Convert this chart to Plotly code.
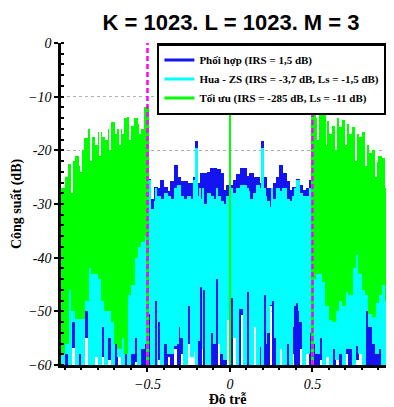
import plotly.graph_objects as go

# ---------------- data ----------------
BIN_START = -1.02      # first delay bin (left edge)
BIN_W = 0.02           # delay bin width

# Optimal ("Tối ưu") : upper / lower envelope per delay bin (None = below -60 dB)
green_hi = ([-27, -25, -22.5, -22, -21, -23, -20, -17.7, -16, -17.5, -19, -16.6, -17.5,
             -18, -16, -14.7, -17, -16, -17, -14, -13.8, -15.5, -14, -15, -16, -12]
            + [None] * 50 +
            [-11.9, -14, -13, -12.5, -14.5, -17, -15.5, -13.9, -15.6, -14.3, -15, -17, -15.6,
             -17, -17.5, -16.5, -19, -20.5, -20, -22.2, -21, -21.5, -22.7, -24, -27])
green_lo = ([-58, -56, -46, -50, -51.5, -51.5, -51.5, -48, -42, -43, -43, -44, -48,
             -50, -50, -52, -56, -57, -55, -58, -47, -45, -40, -38, -37, -36]
            + [None] * 50 +
            [-44, -43, -43, -44.5, -49, -51.6, -52, -50, -48, -49, -46.4, -47, -42,
             -39.5, -43, -46, -47, -50.5, -51, -48.5, -47, -45, -48, -51, -50])

# narrow green notches in the top edge (delay, level) seen in the reference
green_notch_delays = [-0.955, -0.905, -0.845, -0.785, -0.725, -0.665, -0.605, -0.545,
                      0.535, 0.585, 0.645, 0.705, 0.765, 0.825, 0.885, 0.945]
green_notch_level = [-28, -24, -22, -21, -20, -19, -18, -17,
                     -18, -19, -20, -19, -22, -23, -25, -27]

# Hua - ZS
cyan_hi = ([-42, -41, -44, -40, -42, -43, -41, -40, -42, -39, -41, -40, -42,
            -38, -40, -41, -39, -40, -38, -40, -37, -36, -35, -34, -33, -30]
           + [-25.5, -31, -29.5, -28.5, -29, -28, -28.5, -29, -27, -26.5, -28.5, -29, -28.5,
              -29, -25.5, -28.5, -29, -30, -28, -28.5, -29, -28.5, -29.5, -30, -28.5,
              -29, -28, -27, -26.5, -26.5, -27.5, -29, -28, -26.5, -27, -28.5, -29.5,
              -30.5, -29, -27, -27.5, -27, -29, -29.5, -28.5, -25.5, -28, -28.5, -28.5, -27]
           + [-32, -36, -38, -37, -40, -39, -38, -34.5, -39, -40, -38, -40, -37,
              -35, -39, -40, -41, -42, -40, -43, -42, -41, -43, -44, -45])
cyan_lo = ([-60, -58, -60, -52, -60, -58, -60, -50, -60, -60, -58.5, -60, -53,
            -60, -55, -60, -54, -58.5, -60, -52, -60, -58, -55, -60, -57, -56]
           + [-50.5, -60, -60, -52, -60, -56, -58, -58, -56.5, -53, -55, -60, -49,
              -58.5, -57.5, -55.6, -57, -60, -60, -54, -56, -56, -58, -59, -51.6,
              -53.8, -55, -60, -49.5, -60, -55, -60, -53, -60, -56.6, -56, -54,
              -48.8, -55, -60, -57, -60, -56, -60, -53, -50, -52, -60, -58, -54]
           + [-56, -58, -55, -60, -58.5, -60, -57, -59, -58, -60, -57, -57, -60,
              -56.5, -58, -60, -50, -53, -56, -58, -57, -60, -60, -58, -57])

# Matched ("Phối hợp")
blue_hi = ([-44, -43, -45, -42, -44, -46, -43, -44, -45, -42, -44, -43, -45,
            -42, -44, -43, -45, -44, -42, -43, -41, -40, -38, -36, -33, -28]
           + [-25.3, -29, -26.8, -27, -25.5, -26.8, -27.5, -25.8, -22.7, -25, -25.8, -25.8, -26,
              -26, -25, -26, -24.3, -24.3, -24, -23.3, -23.3, -23.5, -24.3, -27.4, -26.5,
              -26.5, -25.5, -24.5, -23.3, -23.3, -24.8, -24.3, -25, -25, -26, -25, -27,
              -27, -26, -25, -22.7, -24.3, -25.8, -27.4, -26.8, -25.3, -26.5, -27.4, -27, -25.5]
           + [-30, -38, -40, -42, -41, -43, -42, -40, -43, -44, -42, -43, -41,
              -42, -44, -45, -43, -44, -43, -45, -44, -46, -45, -46, -47])
blue_lo = ([-60, -60, -60, -56.8, -60, -60, -60, -55, -60, -60, -58.5, -60, -58.5,
            -60, -59, -60, -60, -58.5, -60, -60, -60, -60, -59.5, -60, -60, -60]
           + [-60, -60, -60, -59, -60, -60, -58.5, -60, -57, -60, -58, -60, -56,
              -58.5, -57.5, -60, -57, -60, -60, -60, -60, -56, -60, -60, -51.6,
              -53.8, -55, -60, -50.7, -60, -58, -60, -53, -60, -60, -57, -60,
              -49, -60, -60, -57, -60, -60, -60, -58, -60, -57, -60, -58, -60]
           + [-60, -60, -59, -60, -58.5, -60, -60, -59, -60, -60, -58, -60, -60,
              -59, -58, -60, -60, -60, -60, -60, -60, -60, -60, -58, -60])

# thin deep nulls (delay, level reached) seen as narrow lines
blue_null_delays = [-0.448, -0.314, -0.178, -0.160, -0.078, 0.013, 0.063, 0.108, 0.213, 0.258, 0.392, 0.408]
blue_null_level = [-48, -56, -45.5, -46, -44, -47.5, -49.5, -46.4, -47, -48, -49, -48.5]

# narrow peaks
side_peak_delays = [-0.2, 0.2]
blue_side_peak = [-18.3, -18.3]
cyan_side_peak = [-19.5, -19.5]
green_peak_delays = [-0.5, 0.0, 0.5]
green_peak = [-11.7, -11.9, -11.9]
boundary_delays = [-0.5, 0.5]

floor_db = -60
y_ticks = [0, -10, -20, -30, -40, -50, -60]
y_tick_labels = ["0", "−10", "-20", "-30", "-40", "−50", "−60"]
x_ticks = [-0.5, 0, 0.5]
x_tick_labels = ["−0.5", "0", "0.5"]

names = ["Phối hợp (IRS = 1,5 dB)",
         "Hua - ZS (IRS = -3,7 dB, Ls = -1,5 dB)",
         "Tối ưu (IRS = -285 dB, Ls = -11 dB)"]
colors = ["#1414f0", "#00ffff", "#00ff00"]

# ---------------- figure ----------------
fig = go.Figure()


def band(hi, lo, color):
    xs, base, h = [], [], []
    for i, (a, b) in enumerate(zip(hi, lo)):
        if a is None:
            continue
        xs.append(BIN_START + i * BIN_W)
        base.append(b)
        h.append(a - b)
    return go.Bar(x=xs, y=h, base=base, width=BIN_W * 1.25, offset=-BIN_W * 0.1,
                  marker=dict(color=color, line=dict(width=0)),
                  showlegend=False, hoverinfo="skip")


def peaks(xs, vals, color, w, base=None):
    b = [floor_db] * len(vals) if base is None else base
    return go.Bar(x=xs, y=[v - q for v, q in zip(vals, b)], base=b,
                  width=w, marker=dict(color=color, line=dict(width=0)),
                  showlegend=False, hoverinfo="skip")


fig.add_trace(band(blue_hi, blue_lo, colors[0]))
fig.add_trace(peaks(side_peak_delays, blue_side_peak, colors[0], 0.018))
fig.add_trace(band(cyan_hi, cyan_lo, colors[1]))
fig.add_trace(peaks(side_peak_delays, cyan_side_peak, colors[1], 0.012))
fig.add_trace(peaks(blue_null_delays, [-27] * len(blue_null_delays), colors[1], 0.008,
                    base=blue_null_level))
fig.add_trace(peaks(blue_null_delays, blue_null_level, colors[0], 0.006))
fig.add_trace(band(green_hi, green_lo, colors[2]))
fig.add_trace(peaks(green_peak_delays, green_peak, colors[2], 0.016))
# white notches cut into the green top edge
fig.add_trace(peaks(green_notch_delays, [-10] * len(green_notch_delays), "white", 0.006,
                    base=green_notch_level))

for n, c in zip(names, colors):
    fig.add_trace(go.Scatter(x=[None], y=[None], mode="lines", name=n,
                             line=dict(color=c, width=3)))

for b in boundary_delays:
    fig.add_vline(x=b, line=dict(color="#ff00ff", width=2.5, dash="5px,3px"), layer="above")

# the page places the figure 8 px in from the top-left corner of the window
W, H = 386, 399
serif = "Liberation Serif"
fig.update_layout(
    width=W, height=H,
    margin=dict(l=53, r=0, t=35, b=42, autoexpand=False),
    plot_bgcolor="white", paper_bgcolor="white",
    barmode="overlay", bargap=0,
    title=dict(text="K = 1023. L = 1023. M = 3", x=223 / W, xanchor="center",
               xref="container", y=1 - 14 / H, yanchor="middle", yref="container",
               font=dict(family="Liberation Sans", size=22, weight="bold", color="black")),
    legend=dict(x=0.288, y=1, xanchor="left", yanchor="top", bgcolor="white",
                bordercolor="black", borderwidth=2.5,
                font=dict(family=serif, size=11, weight="bold", color="black"),
                tracegroupgap=0),
    xaxis=dict(range=[-1.024, 0.994], tickmode="array", tickvals=x_ticks, ticktext=x_tick_labels,
               tickfont=dict(family=serif, size=14, style="italic", color="black"),
               showline=True, linecolor="black", linewidth=2.5, mirror=False,
               ticks="outside", ticklen=4, tickwidth=1.5, tickcolor="black",
               showgrid=False, zeroline=False, automargin=False,
               minor=dict(tick0=0, dtick=0.1, ticks="outside", ticklen=2, tickcolor="black"),
               title=dict(text="Đô trễ", standoff=0,
                          font=dict(family=serif, size=14, weight="bold", color="black"))),
    yaxis=dict(range=[-60, 0], tickmode="array", tickvals=y_ticks, ticktext=y_tick_labels,
               tickfont=dict(family=serif, size=14, style="italic", color="black"),
               showline=True, linecolor="black", linewidth=2.5, automargin=False,
               ticks="outside", ticklen=4, tickwidth=1.5, tickcolor="black",
               showgrid=True, gridcolor="#b0b0b0", griddash="dot", gridwidth=1,
               zeroline=False,
               minor=dict(tick0=0, dtick=2, ticks="inside", ticklen=3, tickcolor="black",
                          showgrid=False),
               title=dict(text="Công suất (dB)", standoff=4,
                          font=dict(family=serif, size=14, weight="bold", color="black"))),
)

fig.write_html("out.html")
